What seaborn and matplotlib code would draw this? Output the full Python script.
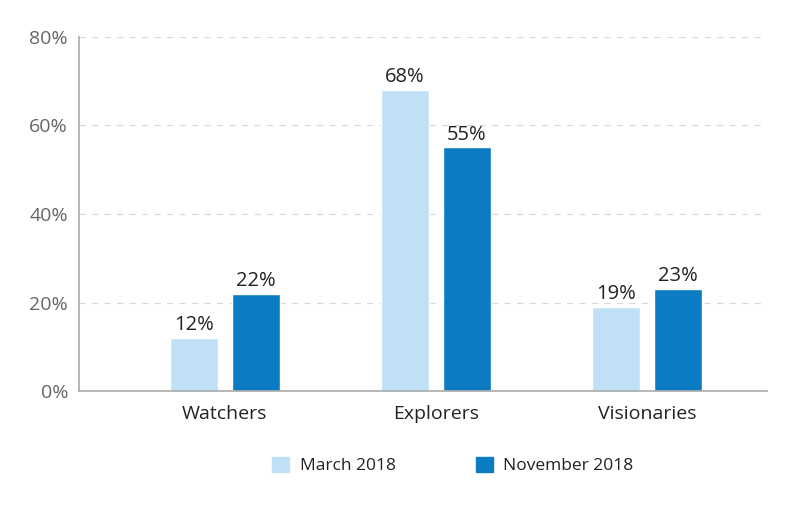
import matplotlib
matplotlib.use("Agg")
import matplotlib.pyplot as plt
import pandas as pd
import seaborn as sns

categories = ["Watchers", "Explorers", "Visionaries"]
periods = ["March 2018", "November 2018"]
march = [12, 68, 19]
november = [22, 55, 23]
yticks = [0, 20, 40, 60, 80]

df = pd.DataFrame({
    "group": categories * 2,
    "period": [periods[0]] * 3 + [periods[1]] * 3,
    "share": march + november,
})

sns.set_style("white")
plt.rcParams["font.family"] = ["Open Sans", "DejaVu Sans"]

colors = ["#BFE0F5", "#0B7BC3"]

fig = plt.figure(figsize=(8, 5.23), dpi=100)
ax = fig.add_axes([0.099, 0.252, 0.86, 0.678])

sns.barplot(data=df, x="group", y="share", hue="period", palette=colors,
            width=0.59, gap=0.23, saturation=1, ax=ax, legend=False)

for cont in ax.containers:
    ax.bar_label(cont, fmt="%.0f%%", padding=2, fontsize=14.5, color="#222222")

ax.set_xlim(-0.69, 2.57)
ax.set_ylim(0, 80)
ax.set_yticks(yticks)
ax.set_yticklabels([f"{v}%" for v in yticks])
ax.yaxis.grid(True, linestyle=(0, (5, 5)), color="#d9d9d9", linewidth=0.9)
ax.set_axisbelow(True)
ax.set_xlabel("")
ax.set_ylabel("")
ax.tick_params(axis="y", length=0, labelsize=14, labelcolor="#666666", pad=8)
ax.tick_params(axis="x", length=0, labelsize=14, labelcolor="#222222", pad=10)

for side in ["top", "right"]:
    ax.spines[side].set_visible(False)
for side in ["left", "bottom"]:
    ax.spines[side].set_color("#aaaaaa")
    ax.spines[side].set_linewidth(1.2)

handles = [plt.Rectangle((0, 0), 1, 1, color=c) for c in colors]
fig.legend(handles, periods, loc="center", bbox_to_anchor=(0.566, 0.11), ncol=2,
           frameon=False, fontsize=12.5, handlelength=1.0, handleheight=1.0,
           handletextpad=0.6, columnspacing=4.6, labelcolor="#222222")

fig.savefig("out.png", dpi=100)
